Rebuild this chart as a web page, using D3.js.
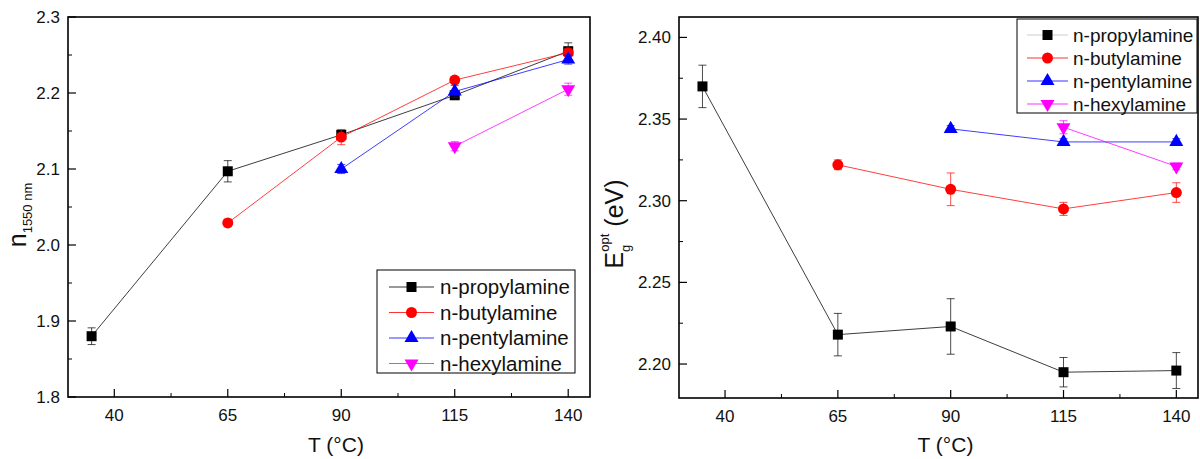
<!DOCTYPE html>
<html>
<head>
<meta charset="utf-8">
<script src="https://cdn.jsdelivr.net/npm/d3@7"></script>
<style>
  body { margin: 0; background: #fff; }
  svg text { font-family: "Liberation Sans", Arial, sans-serif; fill: #111; }
</style>
</head>
<body>
<svg id="chart" width="1200" height="459"></svg>
<script>
// Temperatures (°C)
const temps = [35, 65, 90, 115, 140];
const xTicks = [40, 65, 90, 115, 140];
const seriesNames = ["n-propylamine", "n-butylamine", "n-pentylamine", "n-hexylamine"];
const seriesColors = ["#000000", "#ff0000", "#0000ff", "#ff00ff"];
const seriesSymbols = ["square", "circle", "triangle", "down"];

// Refractive index n at 1550 nm
const nPropyl = [1.880, 2.097, 2.145, 2.197, 2.255];
const nButyl  = [null, 2.029, 2.142, 2.217, 2.253];
const nPentyl = [null, null, 2.100, 2.202, 2.244];
const nHexyl  = [null, null, null, 2.130, 2.205];
const nPropylErr = [0.011, 0.014, 0.005, 0.004, 0.011];
const nButylErr  = [0, 0.005, 0.010, 0.004, 0.005];
const nPentylErr = [0, 0, 0.006, 0.008, 0.006];
const nHexylErr  = [0, 0, 0, 0.006, 0.008];
const nTicks = [1.8, 1.9, 2.0, 2.1, 2.2, 2.3];

// Optical band gap (eV)
const ePropyl = [2.370, 2.218, 2.223, 2.195, 2.196];
const eButyl  = [null, 2.322, 2.307, 2.295, 2.305];
const ePentyl = [null, null, 2.344, 2.336, 2.336];
const eHexyl  = [null, null, null, 2.345, 2.321];
const ePropylErr = [0.013, 0.013, 0.017, 0.009, 0.011];
const eButylErr  = [0, 0.003, 0.010, 0.004, 0.006];
const ePentylErr = [0, 0, 0.002, 0.002, 0.002];
const eHexylErr  = [0, 0, 0, 0.004, 0.002];
const eTicks = [2.20, 2.25, 2.30, 2.35, 2.40];

const svg = d3.select("#chart");

function symbolPath(kind) {
  if (kind === "square") return d3.symbol(d3.symbolSquare, 100)();
  if (kind === "circle") return d3.symbol(d3.symbolCircle, 95)();
  return d3.symbol(d3.symbolTriangle, 85)();
}

function drawPanel(opt) {
  const g = svg.append("g");
  const x = d3.scaleLinear().domain([29.8, 144.8]).range([opt.left, opt.right]);
  const y = d3.scaleLinear().domain(opt.yDomain).range([opt.bottom, opt.top]);

  // minor ticks
  const xMinor = [52.5, 77.5, 102.5, 127.5];
  g.selectAll(".xminor").data(xMinor).enter().append("line")
    .attr("x1", d => x(d)).attr("x2", d => x(d))
    .attr("y1", opt.bottom).attr("y2", opt.bottom - 4)
    .attr("stroke", "#000").attr("stroke-width", 1);
  g.selectAll(".yminor").data(opt.yMinor).enter().append("line")
    .attr("x1", opt.left).attr("x2", opt.left + 4)
    .attr("y1", d => y(d)).attr("y2", d => y(d))
    .attr("stroke", "#000").attr("stroke-width", 1);

  // major ticks
  g.selectAll(".xmajor").data(xTicks).enter().append("line")
    .attr("x1", d => x(d)).attr("x2", d => x(d))
    .attr("y1", opt.bottom).attr("y2", opt.bottom - 8)
    .attr("stroke", "#000").attr("stroke-width", 1.2);
  g.selectAll(".ymajor").data(opt.yTicks).enter().append("line")
    .attr("x1", opt.left).attr("x2", opt.left + 8)
    .attr("y1", d => y(d)).attr("y2", d => y(d))
    .attr("stroke", "#000").attr("stroke-width", 1.2);

  g.selectAll(".xlab").data(xTicks).enter().append("text")
    .attr("x", d => x(d)).attr("y", opt.bottom + 24)
    .attr("text-anchor", "middle").style("font-size", "17px")
    .text(d => d);
  g.selectAll(".ylab").data(opt.yTicks).enter().append("text")
    .attr("x", opt.left - 8).attr("y", d => y(d) + 6)
    .attr("text-anchor", "end").style("font-size", "17px")
    .text(d => d3.format(opt.fmt)(d));

  // frame
  g.append("rect")
    .attr("x", opt.left).attr("y", opt.top)
    .attr("width", opt.right - opt.left).attr("height", opt.bottom - opt.top)
    .attr("fill", "none").attr("stroke", "#000").attr("stroke-width", 1.6);

  // axis title
  g.append("text")
    .attr("x", (opt.left + opt.right) / 2 + 7).attr("y", 452)
    .attr("text-anchor", "middle").style("font-size", "21px")
    .text("T (°C)");

  opt.ylabel(g);

  // series
  opt.series.forEach((vals, i) => {
    const pts = temps.map((t, j) => ({ t: t, v: vals[j], e: opt.errs[i][j] }))
      .filter(d => d.v !== null);
    const col = seriesColors[i];
    g.append("path")
      .datum(pts)
      .attr("fill", "none").attr("stroke", col).attr("stroke-width", 0.9)
      .attr("stroke-opacity", 0.85)
      .attr("d", d3.line().x(d => x(d.t)).y(d => y(d.v)));
    pts.forEach(d => {
      if (d.e > 0) {
        const cx = x(d.t), y1 = y(d.v - d.e), y2 = y(d.v + d.e);
        const eb = g.append("g").attr("stroke", col).attr("stroke-width", 1).attr("stroke-opacity", 0.7);
        eb.append("line").attr("x1", cx).attr("x2", cx).attr("y1", y1).attr("y2", y2);
        eb.append("line").attr("x1", cx - 4).attr("x2", cx + 4).attr("y1", y1).attr("y2", y1);
        eb.append("line").attr("x1", cx - 4).attr("x2", cx + 4).attr("y1", y2).attr("y2", y2);
      }
    });
    g.selectAll(".pt" + i).data(pts).enter().append("path")
      .attr("d", symbolPath(seriesSymbols[i]))
      .attr("transform", d => `translate(${x(d.t)},${y(d.v)})` + (seriesSymbols[i] === "down" ? " rotate(180)" : ""))
      .attr("fill", col);
  });

  // legend
  const L = opt.legend;
  g.append("rect")
    .attr("x", L.x).attr("y", L.y).attr("width", L.w).attr("height", L.h)
    .attr("fill", "#fff").attr("stroke", "#000").attr("stroke-width", 1);
  seriesNames.forEach((name, i) => {
    const ry = L.y + L.row0 + i * L.dy;
    g.append("line")
      .attr("x1", L.x + L.l1).attr("x2", L.x + L.l2)
      .attr("y1", ry).attr("y2", ry)
      .attr("stroke", seriesColors[i]).attr("stroke-width", 1).attr("stroke-opacity", i === 0 && L.faint ? 0.2 : 0.8);
    g.append("path")
      .attr("d", symbolPath(seriesSymbols[i]))
      .attr("transform", `translate(${L.x + (L.l1 + L.l2) / 2},${ry})` + (seriesSymbols[i] === "down" ? " rotate(180)" : ""))
      .attr("fill", seriesColors[i]);
    g.append("text")
      .attr("x", L.x + L.tx).attr("y", ry + L.fs * 0.36)
      .style("font-size", L.fs + "px")
      .text(name);
  });
}

drawPanel({
  left: 68, right: 590, top: 17, bottom: 397,
  yDomain: [1.8, 2.3], yTicks: nTicks, yMinor: [1.85, 1.95, 2.05, 2.15, 2.25], fmt: ".1f",
  series: [nPropyl, nButyl, nPentyl, nHexyl],
  errs: [nPropylErr, nButylErr, nPentylErr, nHexylErr],
  legend: { x: 377, y: 270, w: 198, h: 103, row0: 17, dy: 25.5, l1: 12, l2: 57, tx: 63, fs: 20.5 },
  ylabel: g => {
    const t = g.append("text")
      .attr("transform", "translate(26,215) rotate(-90)")
      .attr("text-anchor", "middle");
    t.append("tspan").style("font-size", "25px").text("n");
    t.append("tspan").style("font-size", "13px").attr("dy", 6).text("1550 nm");
  }
});

drawPanel({
  left: 679, right: 1198, top: 17, bottom: 398,
  yDomain: [2.1792, 2.4125], yTicks: eTicks, yMinor: [2.225, 2.275, 2.325, 2.375], fmt: ".2f",
  series: [ePropyl, eButyl, ePentyl, eHexyl],
  errs: [ePropylErr, eButylErr, ePentylErr, eHexylErr],
  legend: { x: 1017, y: 19, w: 180, h: 94, row0: 16, dy: 23, l1: 10, l2: 51, tx: 56, fs: 19, faint: true },
  ylabel: g => {
    const t = g.append("text")
      .attr("transform", "translate(623,224) rotate(-90)")
      .attr("text-anchor", "middle");
    t.append("tspan").style("font-size", "25px").text("E");
    t.append("tspan").style("font-size", "13px").attr("dy", 7).text("g");
    t.append("tspan").style("font-size", "13px").attr("dx", -7).attr("dy", -21).text("opt");
    t.append("tspan").style("font-size", "25px").attr("dy", 14).text(" (eV)");
  }
});
</script>
</body>
</html>
